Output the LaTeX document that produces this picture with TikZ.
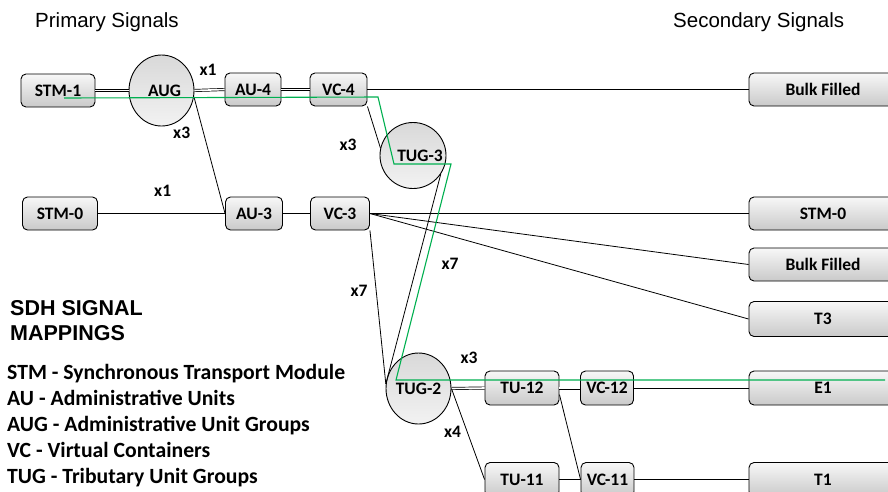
\documentclass[tikz,border=0pt]{standalone}
\usepackage{fontspec}
\setmainfont{Carlito}
\newfontfamily\arialf{Liberation Sans}
\usetikzlibrary{shapes.geometric}
\definecolor{hlgreen}{RGB}{0,176,80}
\tikzset{
  sbox/.style={draw=black, line width=0.9pt, rounded corners=5pt,
    top color=gray!6, bottom color=gray!42, minimum height=33pt,
    inner sep=0pt, font=\bfseries\fontsize{17.5}{19}\selectfont},
  rbox/.style={sbox, minimum width=148pt},
  grp/.style={ellipse, draw=black, line width=0.9pt, top color=gray!30,
    bottom color=gray!10, inner sep=-14pt,
    font=\bfseries\fontsize{17.5}{19}\selectfont},
  wire/.style={draw=black, line width=0.8pt},
  dwire/.style={draw=black, line width=0.7pt, double=white, double distance=1.6pt},
  mult/.style={font=\bfseries\fontsize{17.5}{19}\selectfont, inner sep=0pt},
  greenpath/.style={draw=hlgreen, line width=1.1pt},
  legend/.style={anchor=base west, inner sep=0pt, font=\bfseries\fontsize{21.7}{24}\selectfont},
  titletext/.style={anchor=base west, inner sep=0pt, font=\arialf\fontsize{20.5}{22}\selectfont},
  heading/.style={anchor=base west, inner sep=0pt, font=\arialf\bfseries\fontsize{21.5}{24}\selectfont}
}
\begin{document}
\begin{tikzpicture}[x=1pt,y=-1pt]
\useasboundingbox (0,0) rectangle (888,491);
\clip (0,0) rectangle (888,491);
\fill[white] (0,0) rectangle (888,491);

% titles
\node[titletext] (tprim) at (35,27.3) {Primary Signals};
\node[titletext] (tsec) at (673,27) {Secondary Signals};

% primary side nodes
\node[sbox, minimum width=74pt] (stm1) at (58,90.5) {STM-1};
\node[grp, minimum width=65pt, minimum height=71pt] (aug) at (161.5,90.5) {\hspace{6pt}AUG};
\node[sbox, minimum width=56pt] (au4) at (253,89.5) {AU-4};
\node[sbox, minimum width=57pt] (vc4) at (338.5,89.5) {VC-4};
\node[grp, minimum width=66pt, minimum height=66pt] (tug3) at (413,155.5) {\hspace{14pt}TUG-3};
\node[sbox, minimum width=75pt] (stm0l) at (60,213.5) {STM-0};
\node[sbox, minimum width=57pt] (au3) at (254,213.5) {AU-3};
\node[sbox, minimum width=59pt] (vc3) at (340,213.5) {VC-3};
\node[grp, minimum width=65pt, minimum height=71pt] (tug2) at (418.5,388.5) {TUG-2};
\node[sbox, minimum width=74pt, minimum height=34pt] (tu12) at (522,388) {TU-12};
\node[sbox, minimum width=53pt, minimum height=34pt] (vc12) at (607,388) {VC-12};
\node[sbox, minimum width=74pt, minimum height=34pt] (tu11) at (522,479.5) {TU-11};
\node[sbox, minimum width=53pt, minimum height=34pt] (vc11) at (607.5,479.5) {VC-11};

% secondary side nodes
\node[rbox] (bf1) at (823,89.5) {Bulk Filled};
\node[rbox] (stm0r) at (823,213.5) {STM-0};
\node[rbox] (bf2) at (823,264.5) {Bulk Filled};
\node[rbox, minimum height=35pt] (t3) at (823,319) {T3};
\node[rbox, minimum height=34pt] (e1) at (823,388) {E1};
\node[rbox, minimum height=34pt] (t1) at (823,479.5) {T1};

% connectors
\draw[dwire] (stm1.east) -- (aug.west);
\draw[dwire] (aug.east) -- (au4.west);
\draw[dwire] (au4.east) -- (vc4.west);
\draw[wire] (vc4.east) -- (bf1.west);
\draw[wire] (aug.-11) -- (au3.west);
\draw[wire] (stm0l.east) -- (au3.west);
\draw[wire] (au3.east) -- (vc3.west);
\draw[wire] (vc3.east) -- (stm0r.west);
\draw[wire] (vc3.east) -- (bf2.west);
\draw[wire] (vc3.east) -- (t3.west);
\draw[wire] (vc4.south east) -- (tug3.167);
\draw[wire] (tug3.-34) -- (tug2.172);
\draw[wire] (vc3.south east) -- (tug2.172);
\draw[dwire] (tug2.east) -- (tu12.west);
\draw[dwire] (tu12.east) -- (vc12.west);
\draw[wire] (vc12.east) -- (e1.west);
\draw[wire] (tug2.east) -- (tu11.west);
\draw[wire] (tu12.-10) -- (vc11.west);
\draw[wire] (tu11.east) -- (vc11.west);
\draw[wire] (vc11.east) -- (t1.west);

% highlighted path
\coordinate (g1) at (64,98);
\coordinate (g2) at (378,97);
\coordinate (g3) at (394,164);
\coordinate (g4) at (451,164);
\coordinate (g5) at (396,380);
\coordinate (g6) at (885,380);
\draw[greenpath] (g1) -- (g2) -- (g3) -- (g4) -- (g5) -- (g6);

% multiplicity labels
\node[mult] (m1) at (208,70) {x1};
\node[mult] (m2) at (181.7,133.3) {x3};
\node[mult] (m3) at (348,145) {x3};
\node[mult] (m4) at (162.7,190.7) {x1};
\node[mult] (m5) at (359,290.7) {x7};
\node[mult] (m6) at (450,264.3) {x7};
\node[mult] (m7) at (469,358) {x3};
\node[mult] (m8) at (452.5,432) {x4};

% legend
\node[heading] (h1) at (10,315) {SDH SIGNAL};
\node[heading] (h2) at (10,340) {MAPPINGS};
\node[legend] (l1) at (7,379) {STM - Synchronous Transport Module};
\node[legend] (l2) at (7,405) {AU - Administrative Units};
\node[legend] (l3) at (7,431) {AUG - Administrative Unit Groups};
\node[legend] (l4) at (7,457) {VC - Virtual Containers};
\node[legend] (l5) at (7,483) {TUG - Tributary Unit Groups};
\end{tikzpicture}
\end{document}
